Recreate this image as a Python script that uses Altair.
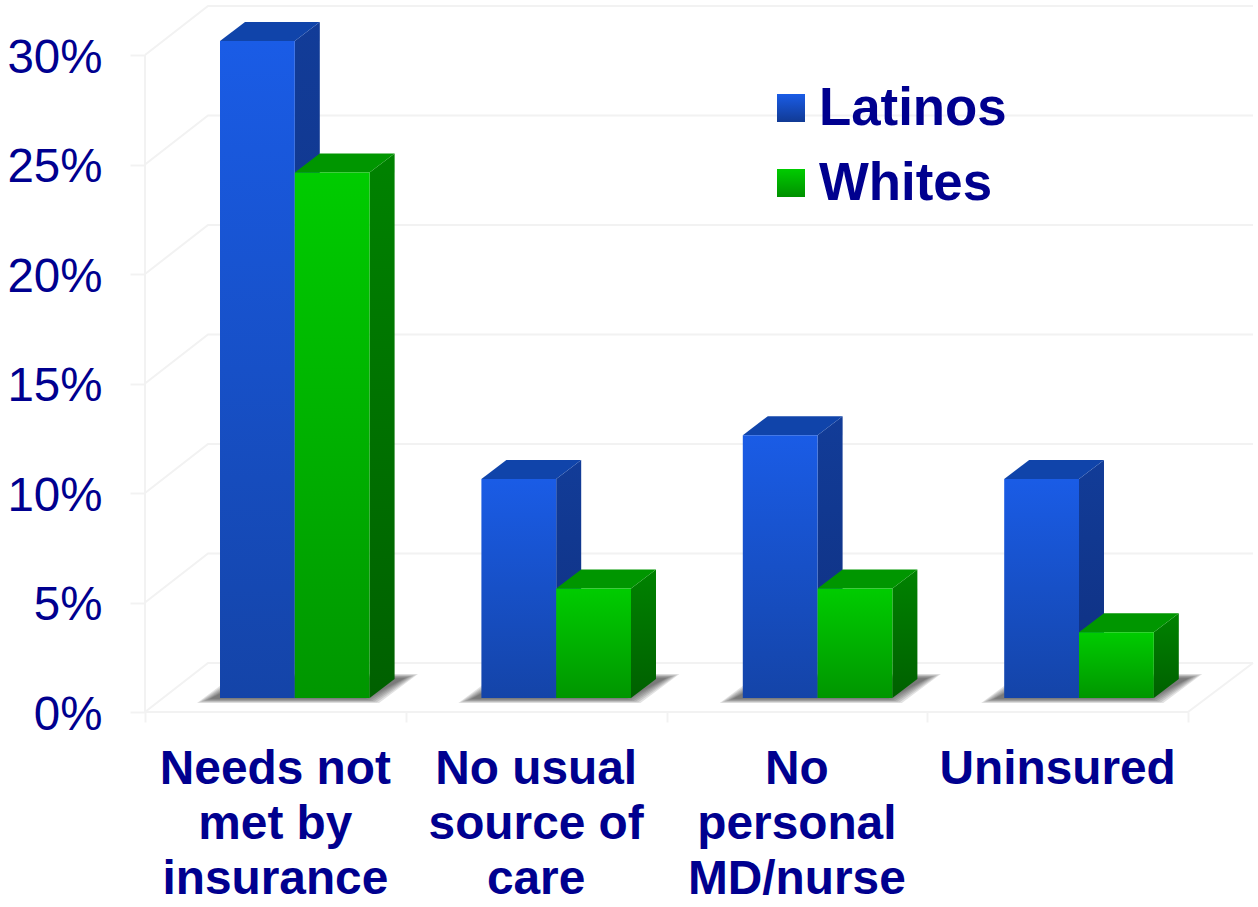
import altair as alt
import pandas as pd

categories = ["Needs not\nmet by\ninsurance", "No usual\nsource of\ncare", "No\npersonal\nMD/nurse", "Uninsured"]
latinos = [30, 10, 12, 10]
whites = [24, 5, 5, 3]
y_ticks = [0, 5, 10, 15, 20, 25, 30]

TEXT = "#00008f"
GRID = "#f2f2f2"

# Plot-area proportions: one x unit is one category slot, one y unit is one percentage point.
SLOT_PX = 260.75
PCT_PX = 21.9
WIDTH = 1108
HEIGHT = 712
X_MAX = WIDTH / SLOT_PX
Y_MAX = HEIGHT / PCT_PX


def ux(px):
    return px / SLOT_PX


def uy(px):
    return px / PCT_PX


WALL_DX, WALL_DY = ux(63), uy(49)
BAR_DX, BAR_DY = ux(25), uy(19)
BAR_LIFT = uy(14)
BAR_OFFSET = ux(75)
BAR_W = ux(74.8)
BAR_PITCH = ux(261.4)

x_scale = alt.Scale(domain=[0, X_MAX], range=[0, WIDTH], nice=False, zero=False)
y_scale = alt.Scale(domain=[0, Y_MAX], range=[HEIGHT, 0], nice=False, zero=False)

x_axis = alt.Axis(
    values=[0, 1, 2, 3, 4], labels=False, domain=False, grid=False, title=None,
    ticks=True, tickColor=GRID, tickWidth=2, tickSize=10,
)
y_axis = alt.Axis(
    values=y_ticks, domain=False, grid=False, title=None, ticks=True, tickColor=GRID, tickWidth=2,
    tickSize=15, labelPadding=28, labelFontSize=47.5, labelFont="Liberation Sans", labelOffset=3,
    labelColor=TEXT, labelExpr="datum.value + '%'",
)


def X():
    return alt.X("x:Q", scale=x_scale, axis=x_axis)


def Y():
    return alt.Y("y:Q", scale=y_scale, axis=y_axis)


def gradient(top, bottom):
    return alt.Gradient(
        gradient="linear",
        stops=[alt.GradientStop(color=top, offset=0), alt.GradientStop(color=bottom, offset=1)],
        x1=0, x2=0, y1=0, y2=1,
    )


def area_layer(rows, fill, opacity=1.0):
    return (
        alt.Chart(pd.DataFrame(rows))
        .mark_area(fill=fill, opacity=opacity)
        .encode(x=X(), y=Y(), y2="y2:Q", detail="id:N")
    )


# Wall and floor lines of the chart box.
wall_rows = []
for v in y_ticks:
    wall_rows += [
        {"id": f"side{v}", "x": 0, "y": v},
        {"id": f"side{v}", "x": WALL_DX, "y": v + WALL_DY},
        {"id": f"side{v}", "x": X_MAX, "y": v + WALL_DY},
    ]
wall_rows += [
    {"id": "post", "x": 0, "y": 0},
    {"id": "post", "x": 0, "y": 30},
    {"id": "floor", "x": 0, "y": 0},
    {"id": "floor", "x": 4, "y": 0},
    {"id": "floor", "x": X_MAX, "y": WALL_DY},
]
walls = (
    alt.Chart(pd.DataFrame(wall_rows))
    .mark_line(color=GRID, strokeWidth=2)
    .encode(x=X(), y=Y(), detail="id:N", order=alt.value(0))
)

# Soft floor shadow, built from nested translucent parallelograms.
shadow_rows = []
for i in range(len(categories)):
    left = i * BAR_PITCH + ux(52)
    right = i * BAR_PITCH + ux(234)
    slant = ux(39)
    low, high = uy(9), uy(38)
    for step in range(7):
        ix, iy = ux(2.2 * step), uy(0.7 * step)
        sid = f"s{i}-{step}"
        shadow_rows += [
            {"id": sid, "x": left + ix, "y": low + iy, "y2": low + iy},
            {"id": sid, "x": left + ix + slant, "y": low + iy, "y2": high - iy},
            {"id": sid, "x": right - ix, "y": low + iy, "y2": high - iy},
            {"id": sid, "x": right - ix + slant, "y": high - iy, "y2": high - iy},
        ]
shadows = area_layer(shadow_rows, "#3a3a3a", 0.15)


def series_layers(values, offset, front_fill, top_fill, side_fill):
    side_rows, top_rows, front_rows = [], [], []
    for i, v in enumerate(values):
        x0 = i * BAR_PITCH + BAR_OFFSET + offset * BAR_W
        x1 = x0 + BAR_W
        t = v + BAR_LIFT
        side_rows += [
            {"id": i, "x": x1, "y": BAR_LIFT, "y2": t},
            {"id": i, "x": x1 + BAR_DX, "y": BAR_LIFT + BAR_DY, "y2": t + BAR_DY},
        ]
        top_rows += [
            {"id": i, "x": x0, "y": t, "y2": t},
            {"id": i, "x": x0 + BAR_DX, "y": t, "y2": t + BAR_DY},
            {"id": i, "x": x1, "y": t, "y2": t + BAR_DY},
            {"id": i, "x": x1 + BAR_DX, "y": t + BAR_DY, "y2": t + BAR_DY},
        ]
        front_rows.append({"x": x0, "x2": x1, "y": BAR_LIFT, "y2": t})
    front = (
        alt.Chart(pd.DataFrame(front_rows))
        .mark_rect(fill=front_fill)
        .encode(x=X(), x2="x2:Q", y=Y(), y2="y2:Q")
    )
    return [area_layer(side_rows, side_fill), area_layer(top_rows, top_fill), front]


blue = series_layers(
    latinos, 0,
    gradient("#1a5ce6", "#1444a8"), gradient("#1044aa", "#1044aa"), gradient("#123c98", "#0f3080"),
)
green = series_layers(
    whites, 1,
    gradient("#00cc00", "#009600"), gradient("#009600", "#009600"), gradient("#008200", "#006000"),
)

# Category captions under each slot.
caption_df = pd.DataFrame({"x": [i + 0.5 for i in range(len(categories))], "label": categories})
captions = (
    alt.Chart(caption_df)
    .mark_text(font="Liberation Sans", fontSize=47.8, fontWeight="bold", color=TEXT,
               align="center", baseline="alphabetic", lineBreak="\n", lineHeight=55)
    .encode(x=X(), y=alt.value(784), text="label:N")
)

# Hand-placed key inside the plot area.
key_layers = []
for name, fill, swatch_y, text_y in [
    ("Latinos", gradient("#1a5ce6", "#113a94"), 94, 125),
    ("Whites", gradient("#00cc00", "#009000"), 169, 200),
]:
    key_df = pd.DataFrame({"label": [name]})
    key_layers.append(
        alt.Chart(key_df).mark_rect(fill=fill).encode(
            x=alt.value(632), x2=alt.value(660), y=alt.value(swatch_y), y2=alt.value(swatch_y + 28))
    )
    key_layers.append(
        alt.Chart(key_df).mark_text(
            font="Liberation Sans", fontSize=52.8, fontWeight="bold", color=TEXT,
            align="left", baseline="alphabetic",
        ).encode(x=alt.value(674), y=alt.value(text_y), text="label:N")
    )

chart = (
    alt.layer(walls, shadows, *blue, *green, captions, *key_layers)
    .properties(
        width=WIDTH,
        height=HEIGHT,
        background="white",
        padding={"left": 145, "top": 0, "right": 5, "bottom": 195},
        autosize=alt.AutoSizeParams(type="none"),
    )
    .configure_view(stroke=None)
)

chart.save("out.html", embed_options={"renderer": "svg", "actions": False})
